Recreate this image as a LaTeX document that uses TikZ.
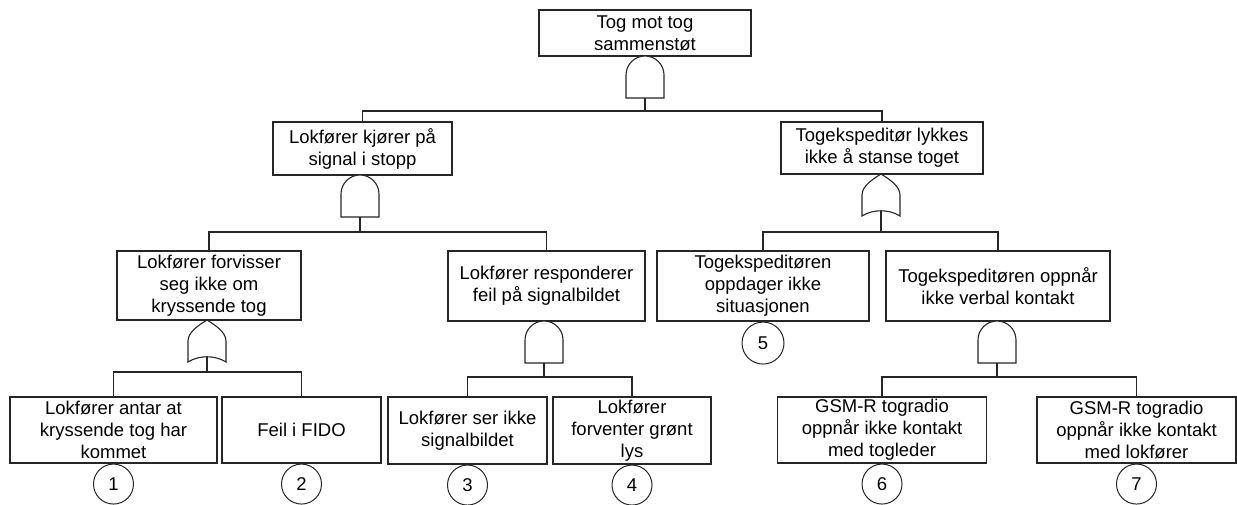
\documentclass[tikz,border=0pt]{standalone}
\usepackage{fontspec}
\setmainfont{Liberation Sans}
\begin{document}
\begin{tikzpicture}[x=1pt,y=-1pt,
  wire/.style={draw=black!85, line width=1.1pt},
  faultbox/.style={draw=black!85, line width=1.1pt, align=center, inner sep=0pt,
    font=\fontsize{18.5}{22}\selectfont, anchor=center},
  basicev/.style={draw=black!85, line width=1pt, circle, minimum size=40, inner sep=0pt,
    font=\fontsize{18.5}{22}\selectfont, anchor=north},
  gateshape/.style={draw=black!85, line width=1.1pt, fill=white},
  andgate/.pic={
    \draw[gateshape] (-19,42) -- (-19,19)
      .. controls (-19,8.5) and (-10.5,0) .. (0,0)
      .. controls (10.5,0) and (19,8.5) .. (19,19) -- (19,42) -- cycle;
    \coordinate (-out) at (0,42);
  },
  orgate/.pic={
    \draw[gateshape] (-19,42) -- (-19,21)
      .. controls (-19,12) and (-8,5) .. (0,0)
      .. controls (8,5) and (19,12) .. (19,21) -- (19,42)
      .. controls (8,35) and (-8,35) .. (-19,42) -- cycle;
    \coordinate (-out) at (0,36.8);
  }
]
\useasboundingbox (0,0) rectangle (1237,504);

% top event
\node[faultbox, minimum width=212, minimum height=46] (top) at (645,33)
  {Tog mot tog\\sammenstøt};

% intermediate events
\node[faultbox, minimum width=179, minimum height=53] (A) at (362.5,148.5)
  {Lokfører kjører på\\signal i stopp};
\node[faultbox, minimum width=202, minimum height=52] (B) at (882,148)
  {Togekspeditør lykkes\\ikke å stanse toget};
\node[faultbox, minimum width=184, minimum height=69] (C) at (209,285.5)
  {Lokfører forvisser\\seg ikke om\\kryssende tog};
\node[faultbox, minimum width=197, minimum height=70] (D) at (546.5,286)
  {Lokfører responderer\\feil på signalbildet};
\node[faultbox, minimum width=212, minimum height=70] (E) at (763,286)
  {Togekspeditøren\\oppdager ikke\\situasjonen};
\node[faultbox, minimum width=224, minimum height=70] (F) at (998,286)
  {Togekspeditøren oppnår\\ikke verbal kontakt};

% bottom events
\node[faultbox, minimum width=207, minimum height=66] (G1) at (113.5,430)
  {Lokfører antar at\\kryssende tog har\\kommet};
\node[faultbox, minimum width=159, minimum height=66] (G2) at (301.5,430)
  {Feil i FIDO};
\node[faultbox, minimum width=159, minimum height=67] (G3) at (467.5,430.5)
  {Lokfører ser ikke\\signalbildet};
\node[faultbox, minimum width=158, minimum height=67] (G4) at (632,430.5)
  {Lokfører\\forventer grønt\\lys};
\node[faultbox, minimum width=209, minimum height=66] (G6) at (882,430)
  {GSM-R togradio\\oppnår ikke kontakt\\med togleder};
\node[faultbox, minimum width=199, minimum height=66] (G7) at (1136.5,430)
  {GSM-R togradio\\oppnår ikke kontakt\\med lokfører};

% basic event markers
\node[basicev] (b1) at (G1.south) {1};
\node[basicev] (b2) at (G2.south) {2};
\node[basicev] (b3) at (G3.south) {3};
\node[basicev] (b4) at (G4.south) {4};
\node[basicev, minimum size=42] (b5) at (E.south) {5};
\node[basicev] (b6) at (G6.south) {6};
\node[basicev] (b7) at (G7.south) {7};

% gates
\pic (g0) at (645,56) {andgate};
\pic (gA) at (360,175) {andgate};
\pic (gB) at (881,174) {orgate};
\pic (gC) at (207,320) {orgate};
\pic (gD) at (544,321) {andgate};
\pic (gF) at (997,321) {andgate};

% bus points
\coordinate (bus0) at (645,111);
\coordinate (busA) at (360,232);
\coordinate (busB) at (881,232);
\coordinate (busC) at (207,372);
\coordinate (busD) at (544,377);
\coordinate (busF) at (997,377);

% connectors
\draw[wire] (g0-out) -- (bus0);
\draw[wire] (A.north) |- (bus0) -| (B.north);
\draw[wire] (gA-out) -- (busA);
\draw[wire] (C.north) |- (busA) -| (D.north);
\draw[wire] (gB-out) -- (busB);
\draw[wire] (E.north) |- (busB) -| (F.north);
\draw[wire] (gC-out) -- (busC);
\draw[wire] (G1.north) |- (busC) -| (G2.north);
\draw[wire] (gD-out) -- (busD);
\draw[wire] (G3.north) |- (busD) -| (G4.north);
\draw[wire] (gF-out) -- (busF);
\draw[wire] (G6.north) |- (busF) -| (G7.north);
\end{tikzpicture}
\end{document}
